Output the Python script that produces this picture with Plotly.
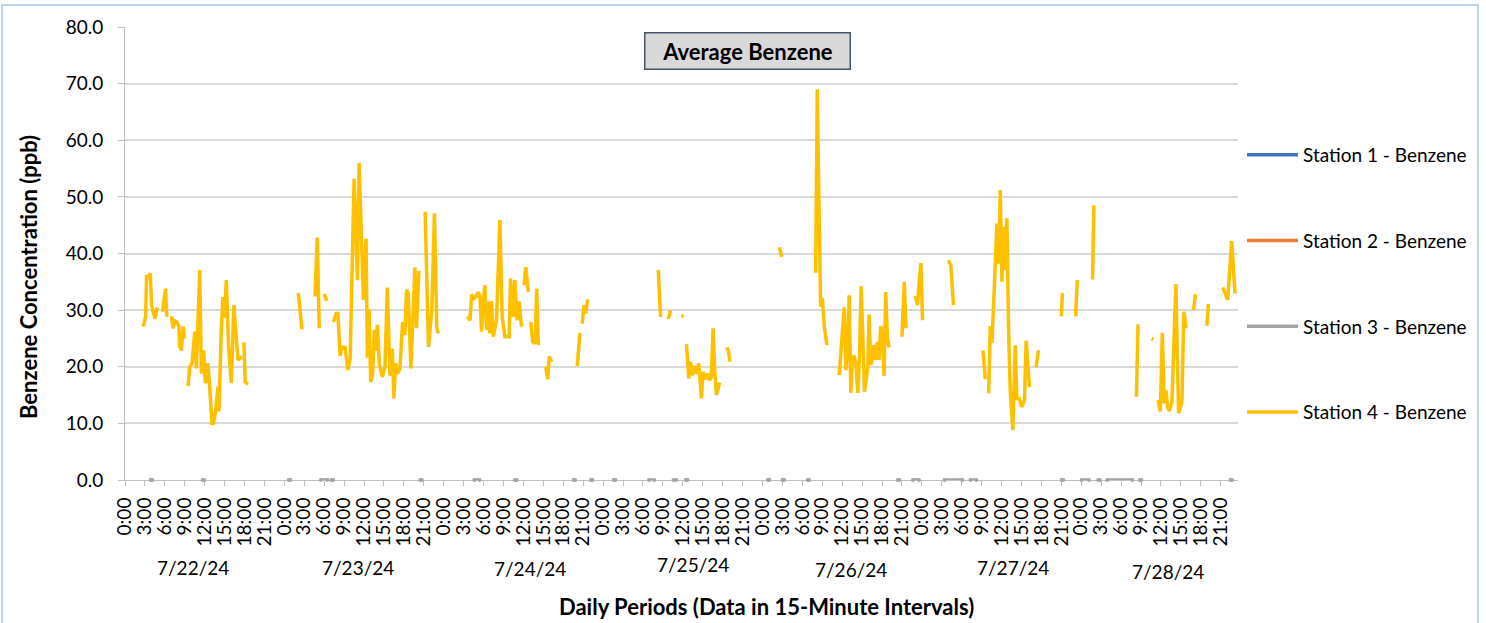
import plotly.graph_objects as go

# ---------------- DATA ----------------
# hours elapsed since 7/22/24 0:00 (15-minute data); None = gap
s4_hours = [
    2.75, 3.1, 3.25, 3.5, 3.8, 4.0, 4.5, 4.85, None,
    5.65, 6.1, 6.3, None,
    7.0, 7.25, 7.5, 7.85, 8.1, 8.25, 8.5, 8.75, 9.0, None,
    9.5, 9.75, 10.1, 10.5, 10.75, 11.25, 11.5, 11.85, 12.1, 12.5, 12.85, 13.1, 13.3, 13.6,
    14.0, 14.15, 14.5, 14.75, 15.0, 15.25, 15.6, 16.0, 16.4, 16.75, 17.0, 17.65, None,
    17.9, 18.1, 18.5, None,
    26.1, 26.65, None,
    28.6, 28.95, 29.25, None,
    30.0, 30.35, None,
    31.4, 31.8, 32.05, 32.4, 32.65, 33.15, 33.55, 33.9, 34.5, 35.0, 35.25, 35.9, 36.3, 36.5,
    36.75, 37.0, 37.3, 37.55, 37.75, 38.0, 38.3, 38.75, 39.15, 39.5, 39.9, 40.25, 40.5, 40.75,
    41.05, 41.4, 41.8, 42.15, 42.4, 42.65, 43.05, 43.65, 43.9, 44.25, None,
    45.2, 45.7, 46.2, 46.6, 46.95, 47.2, None,
    51.55, 51.95, 52.2, 52.55, 52.85, 53.2, 53.45, 53.7, 53.95, 54.2, 54.45, 54.7, 54.95, 55.2,
    55.45, 55.95, 56.45, 56.8, 57.2, 57.85, 58.05, 58.45, 58.7, 59.05, 59.35, 59.7, None,
    60.1, 60.35, 60.75, None,
    61.1, 61.4, 61.75, 62.0, 62.25, None,
    63.35, 63.65, 63.9, 64.25, None,
    68.1, 68.5, None,
    68.85, 69.1, 69.4, 69.65, None,
    80.3, 80.65, None,
    81.8, 82.15, None,
    83.8, 84.15, None,
    84.55, 84.9, 85.15, 85.45, 85.8, 86.05, 86.4, 86.8, 87.05, 87.45, 87.8, 88.05, 88.3, 88.55,
    88.8, 89.05, 89.3, 89.55, None,
    90.6, 90.85, 91.1, None,
    98.55, 98.9, None,
    104.0, 104.25, 104.5, 104.75, 105.0, 105.3, 105.7, None,
    107.55, 107.8, 108.05, 108.3, 108.55, 108.8, 109.05, 109.3, 109.55, 109.8, 110.05, 110.35,
    110.6, 110.85, 111.1, 111.35, 111.85, 112.05, 112.3, 112.55, 112.8, 113.05, 113.3, 113.55,
    113.8, 114.05, 114.3, 114.55, 114.8, 115.05, None,
    117.0, 117.35, 117.6, None,
    119.0, 119.35, 119.6, 119.85, 120.1, None,
    124.0, 124.35, 124.75, None,
    129.2, 129.55, None,
    130.05, 130.3, 130.55, 130.8, 131.05, 131.3, 131.55, 131.8, 132.05, 132.3, 132.55, 132.8,
    133.05, 133.3, 133.7, 134.05, 134.3, 134.65, 135.05, 135.45, 135.7, 135.95, 136.2, None,
    137.2, 137.55, None,
    141.0, 141.15, None,
    143.15, 143.4, None,
    145.7, 145.9, None,
    152.3, 152.55, None,
    154.6, 154.85, None,
    155.55, 155.9, 156.2, 156.5, 156.75, 157.0, 157.25, 157.65, 158.25, 158.65, 159.15, 159.45,
    159.8, None,
    160.9, 161.2, None,
    162.9, 163.15, None,
    165.3, 165.75, 166.05, 166.65, 167.15,
]
s4_ppb = [
    27.1, 28.8, 35.9, 35.9, 36.5, 30.9, 28.5, 30.5, None,
    29.7, 33.8, 28.8, None,
    28.9, 26.8, 28.1, 27.9, 27.1, 23.5, 22.9, 27.1, 25.0, None,
    16.6, 20.0, 20.6, 26.2, 19.7, 37.1, 18.8, 22.9, 17.1, 20.6, 14.7, 10.0, 10.0, 11.7,
    16.5, 12.1, 26.5, 32.3, 28.7, 35.3, 23.5, 17.1, 30.9, 24.1, 21.2, 21.8, None,
    24.3, 17.3, 16.9, None,
    33.0, 26.6, None,
    32.4, 42.8, 26.8, None,
    32.9, 31.6, None,
    27.9, 29.4, 29.4, 21.9, 23.5, 23.4, 19.4, 21.2, 53.2, 35.3, 56.0, 31.8, 42.6, 21.6,
    30.1, 17.3, 18.8, 26.5, 22.8, 27.4, 20.5, 18.2, 20.0, 34.0, 18.4, 23.2, 14.4, 20.6,
    18.8, 19.7, 27.9, 25.6, 33.6, 32.9, 19.7, 37.5, 26.8, 36.9, None,
    47.4, 23.5, 30.0, 47.1, 26.8, 25.9, None,
    28.9, 28.2, 32.8, 32.1, 32.4, 33.2, 32.4, 26.2, 31.5, 34.4, 26.5, 31.5, 25.9, 31.6,
    25.3, 28.2, 45.9, 28.8, 25.3, 25.3, 35.6, 28.8, 35.3, 28.2, 31.5, 27.1, None,
    34.4, 37.6, 33.2, None,
    27.9, 24.4, 24.1, 33.8, 23.8, None,
    20.0, 17.8, 21.8, 20.9, None,
    20.1, 26.0, None,
    27.6, 30.9, 29.4, 31.9, None,
    37.1, 28.8, None,
    28.4, 30.0, None,
    29.0, 28.9, None,
    24.0, 17.9, 20.9, 18.5, 20.1, 18.8, 20.6, 14.4, 19.1, 17.8, 18.8, 17.6, 18.2, 26.8,
    19.4, 15.0, 16.2, 17.2, None,
    23.4, 22.9, 20.9, None,
    41.1, 39.4, None,
    36.6, 69.0, 48.8, 30.6, 32.1, 27.1, 23.8, None,
    18.5, 22.9, 25.9, 30.5, 19.4, 22.9, 32.6, 15.4, 21.8, 21.8, 20.6, 15.4,
    21.8, 34.2, 25.3, 15.6, 19.7, 29.2, 20.3, 21.5, 23.8, 21.2, 24.4, 21.2,
    27.2, 25.3, 18.4, 33.2, 25.3, 23.4, None,
    25.3, 35.0, 26.8, None,
    32.5, 30.9, 35.3, 38.3, 28.2, None,
    38.8, 37.9, 30.9, None,
    22.9, 17.8, None,
    15.3, 27.2, 24.2, 31.8, 40.0, 45.3, 38.2, 51.2, 35.0, 44.7, 37.1, 46.2,
    26.5, 15.9, 8.8, 23.8, 14.4, 14.4, 12.9, 14.1, 24.6, 20.6, 16.4, None,
    19.9, 22.9, None,
    28.9, 33.0, None,
    28.9, 35.3, None,
    35.4, 48.5, None,
    14.7, 27.5, None,
    25.0, 24.8, None,
    14.1, 12.1, 26.0, 13.5, 15.8, 12.8, 12.2, 13.8, 34.6, 11.8, 13.8, 29.7,
    26.8, None,
    30.0, 32.8, None,
    27.2, 31.1, None,
    34.0, 32.6, 31.8, 42.2, 32.9,
]

# Station 3 reports 0.0 ppb in short runs (start hour, end hour)
s3_runs = [
    (3.85, 4.1), (11.7, 11.95), (24.65, 24.9), (29.5, 30.5), (31.1, 31.35), (44.45, 44.7),
    (52.6, 53.4), (58.7, 58.95), (67.55, 67.8), (70.15, 70.4), (73.6, 73.85), (78.9, 79.7),
    (82.6, 83.0), (84.45, 84.7), (96.8, 97.05), (99.0, 99.25), (102.8, 103.05), (116.35, 116.6),
    (118.65, 119.55), (123.4, 126.1), (127.3, 128.2), (141.05, 141.3), (144.05, 145.15),
    (146.55, 146.8), (147.9, 151.7), (152.8, 153.05), (166.45, 166.7),
]
s3_value = 0.0

series_names = ["Station 1 - Benzene", "Station 2 - Benzene",
                "Station 3 - Benzene", "Station 4 - Benzene"]
series_colors = ["#4472C4", "#ED7D31", "#A5A5A5", "#FFC000"]

tick_hours = list(range(0, 166, 3))
tick_text = [f"{h % 24}:00" for h in tick_hours]

date_labels = ["7/22/24", "7/23/24", "7/24/24", "7/25/24", "7/26/24", "7/27/24", "7/28/24"]
date_label_hours = [10.2, 35.1, 61.0, 85.5, 109.3, 133.7, 157.1]
date_label_y = [-0.194, -0.194, -0.196, -0.187, -0.198, -0.194, -0.203]

# ---------------- FIGURE ----------------
FONT = "Lato"
PLOT_L, PLOT_R, PLOT_T, PLOT_B = 125, 1238, 27, 480
PW, PH = PLOT_R - PLOT_L, PLOT_B - PLOT_T


def px(xp):
    return (xp - PLOT_L) / PW


def py(yp):
    return (PLOT_B - yp) / PH


fig = go.Figure()

s3_x, s3_y = [], []
for a, b in s3_runs:
    s3_x += [a, b, None]
    s3_y += [s3_value, s3_value, None]

for i, name in enumerate(series_names):
    if i == 2:
        x, y = s3_x, s3_y
    elif i == 3:
        x, y = s4_hours, s4_ppb
    else:
        x, y = [None], [None]
    fig.add_trace(go.Scatter(
        x=x, y=y, mode="lines", name=name, legendgroup=name,
        line=dict(color=series_colors[i], width=3.5),
        connectgaps=False, hoverinfo="skip",
    ))
    if i == 2:
        # Station 3 sits on the 0 baseline; draw its points unclipped so they stay visible
        fig.add_trace(go.Scatter(
            x=x, y=y, mode="markers", name=name, legendgroup=name, showlegend=False,
            marker=dict(color=series_colors[i], size=4), cliponaxis=False, hoverinfo="skip",
        ))

annotations = []
for lbl, hx, yy in zip(date_labels, date_label_hours, date_label_y):
    annotations.append(dict(x=hx, y=yy, xref="x", yref="paper", text=lbl,
                            xanchor="center", yanchor="middle", showarrow=False,
                            font=dict(size=19, color="#000000", family=FONT)))

# chart title box
annotations.append(dict(x=px(747), y=py(50.5), xref="paper", yref="paper",
                        xanchor="center", yanchor="middle",
                        text="<b>Average Benzene</b>", showarrow=False,
                        font=dict(size=22, color="#000000", family=FONT),
                        bgcolor="#D9D9D9", bordercolor="#44546A", borderwidth=1.5,
                        borderpad=2, width=200, height=31))
# axis titles
annotations.append(dict(x=px(766), y=py(606), xref="paper", yref="paper",
                        xanchor="center", yanchor="middle",
                        text="<b>Daily Periods (Data in 15-Minute Intervals)</b>", showarrow=False,
                        font=dict(size=22, color="#000000", family=FONT)))
annotations.append(dict(x=px(28), y=py(277), xref="paper", yref="paper",
                        xanchor="center", yanchor="middle",
                        text="<b>Benzene Concentration (ppb)</b>", showarrow=False, textangle=-90,
                        font=dict(size=22, color="#000000", family=FONT)))

fig.update_layout(
    width=1486, height=623,
    margin=dict(l=PLOT_L, r=1486 - PLOT_R, t=PLOT_T, b=623 - PLOT_B, autoexpand=False),
    paper_bgcolor="white", plot_bgcolor="white",
    font=dict(family=FONT, color="#000000"),
    showlegend=True,
    legend=dict(x=px(1242), xanchor="left", y=py(136), yanchor="top",
                font=dict(size=19, family=FONT, color="#000000"),
                tracegroupgap=58, itemwidth=51, bgcolor="rgba(0,0,0,0)"),
    annotations=annotations,
    shapes=[dict(type="rect", xref="paper", yref="paper",
                 x0=px(2), x1=px(1478), y0=py(640), y1=py(5),
                 line=dict(color="#A9C8EA", width=1.5), layer="below")],
    xaxis=dict(range=[0, 167.6], tickmode="array", tickvals=tick_hours, ticktext=tick_text,
               tickangle=-90, showgrid=False, zeroline=False, showline=True,
               linecolor="#BFBFBF", linewidth=1, ticks="outside", ticklen=5,
               tickcolor="#BFBFBF", ticklabelstandoff=4, layer="below traces",
               tickfont=dict(size=19, family=FONT, color="#000000"),
               automargin=False),
    yaxis=dict(range=[0, 80], dtick=10, tickformat=".1f", showgrid=True,
               gridcolor="#D9D9D9", gridwidth=1.5, zeroline=False, showline=True,
               linecolor="#BFBFBF", ticks="outside", ticklen=6, tickcolor="#BFBFBF",
               ticklabelstandoff=11, layer="below traces",
               tickfont=dict(size=19, family=FONT, color="#000000"), automargin=False),
)

fig.write_html("out.html", config={"displayModeBar": False},
               post_script="document.body.style.margin='0px';")
